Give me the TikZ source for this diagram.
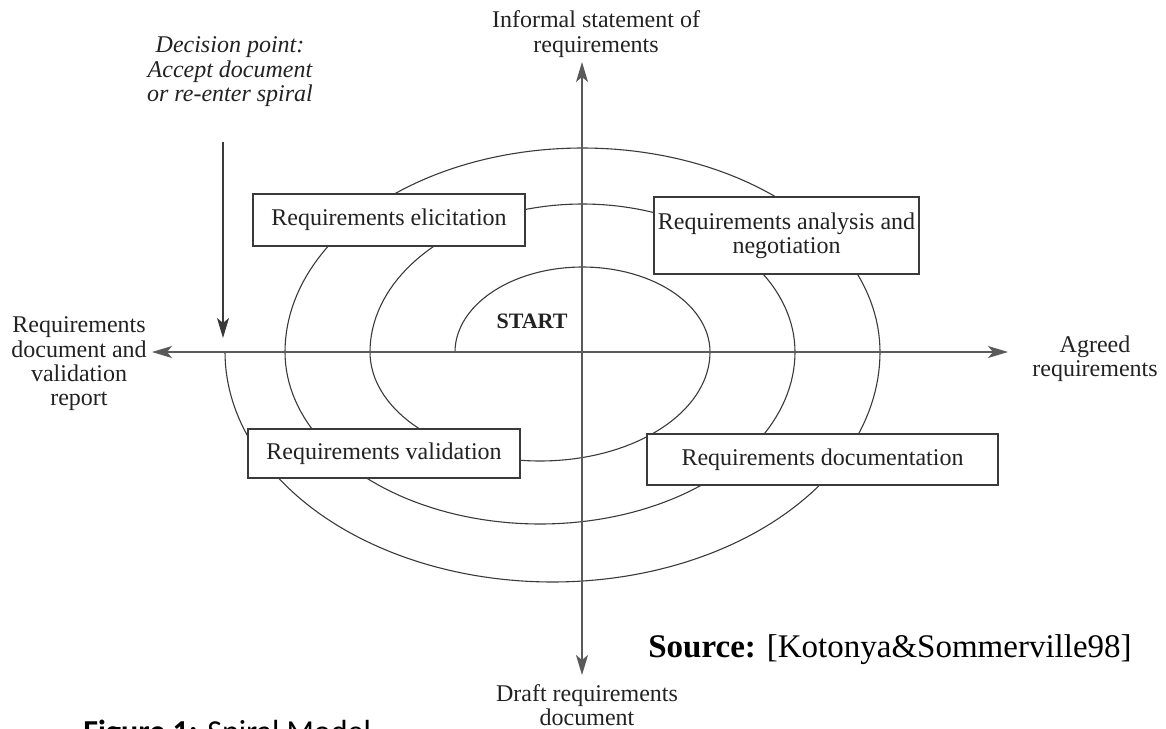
\documentclass[tikz,border=0pt]{standalone}
\usepackage{fontspec}
\setmainfont{Liberation Serif}
\newfontfamily\capfont{Carlito}
\usetikzlibrary{arrows.meta}
\definecolor{ink}{HTML}{222222}
\definecolor{linec}{HTML}{3A3A3A}
\definecolor{axisc}{HTML}{5A5A5A}
\begin{document}
\begin{tikzpicture}[x=0.5pt,y=-0.5pt,
  txt/.style={font=\fontsize{12}{12.2}\selectfont, text=ink, align=center, inner sep=0pt},
  box/.style={draw=linec, line width=0.9pt, fill=white, font=\fontsize{12}{12}\selectfont, text=ink, align=center, inner sep=0pt},
  spiral/.style={draw=linec, line width=0.55pt},
  tip/.style={},
  axis/.style={draw=axisc, line width=0.75pt, {Stealth[length=10pt,width=6pt,inset=2.5pt]}-{Stealth[length=10pt,width=6pt,inset=2.5pt]}},
  decarrow/.style={draw=linec, line width=0.6pt, -{Stealth[length=10pt,width=6pt,inset=2.5pt]}}
]
\useasboundingbox (0,0) rectangle (1166,728);

% spiral
\draw[spiral] plot[domain=180:360,samples=60] ({582.5+127.5*cos(\x)},{352+85*sin(\x)})
  -- plot[domain=0:180,samples=70] ({540+170*cos(\x)},{352+109*sin(\x)})
  -- plot[domain=180:360,samples=80] ({582.5+212.5*cos(\x)},{352+148*sin(\x)})
  -- plot[domain=0:180,samples=90] ({540+255*cos(\x)},{352+172*sin(\x)})
  -- plot[domain=180:360,samples=100] ({582.5+297.5*cos(\x)},{352+204*sin(\x)})
  -- plot[domain=0:180,samples=110] ({552.5+327.5*cos(\x)},{352+230*sin(\x)});

% axes
\coordinate (axL) at (152,352);
\coordinate (axR) at (1008,352);
\coordinate (axT) at (582,62);
\coordinate (axB) at (582,675);
\draw[axis] (axL) -- (axR);
\draw[axis] (axT) -- (axB);

% decision arrow
\coordinate (decS) at (223,142);
\coordinate (decE) at (223,338);
\draw[decarrow] (decS) -- (decE);

% boxes
\node[box, minimum width=136pt, minimum height=26pt] (elic) at (389,220) {Requirements elicitation};
\node[box, minimum width=132.5pt, minimum height=38.5pt] (anal) at (786.5,235.5) {Requirements analysis and\\negotiation};
\node[box, minimum width=136pt, minimum height=24.5pt] (vali) at (384,453.5) {Requirements validation};
\node[box, minimum width=175.5pt, minimum height=25.5pt] (docu) at (822.5,459.5) {Requirements documentation};

% labels
\node[txt] (informal) at (596,34) {Informal statement of\\requirements};
\node[txt, font=\itshape\fontsize{12}{12.3}\selectfont] (decision) at (230,72) {Decision point:\\Accept document\\or re-enter spiral};
\node[txt] (reqdoc) at (79,364) {Requirements\\document and\\validation\\report};
\node[txt] (agreed) at (1095,359) {Agreed\\requirements};
\node[txt] (draft) at (587,705) {Draft requirements\\document};
\node[txt, font=\bfseries\fontsize{11}{12}\selectfont] (start) at (532,321) {START};
\node[inner sep=0pt, font=\fontsize{16.5}{18}\selectfont, text=black] (src) at (890,650) {\textbf{Source:} [Kotonya\&Sommerville98]};
\node[inner sep=0pt, anchor=base west, font=\capfont\fontsize{16}{18}\selectfont, text=black] (cap) at (83,742) {\textbf{Figure 1:} Spiral Model};
\end{tikzpicture}
\end{document}
